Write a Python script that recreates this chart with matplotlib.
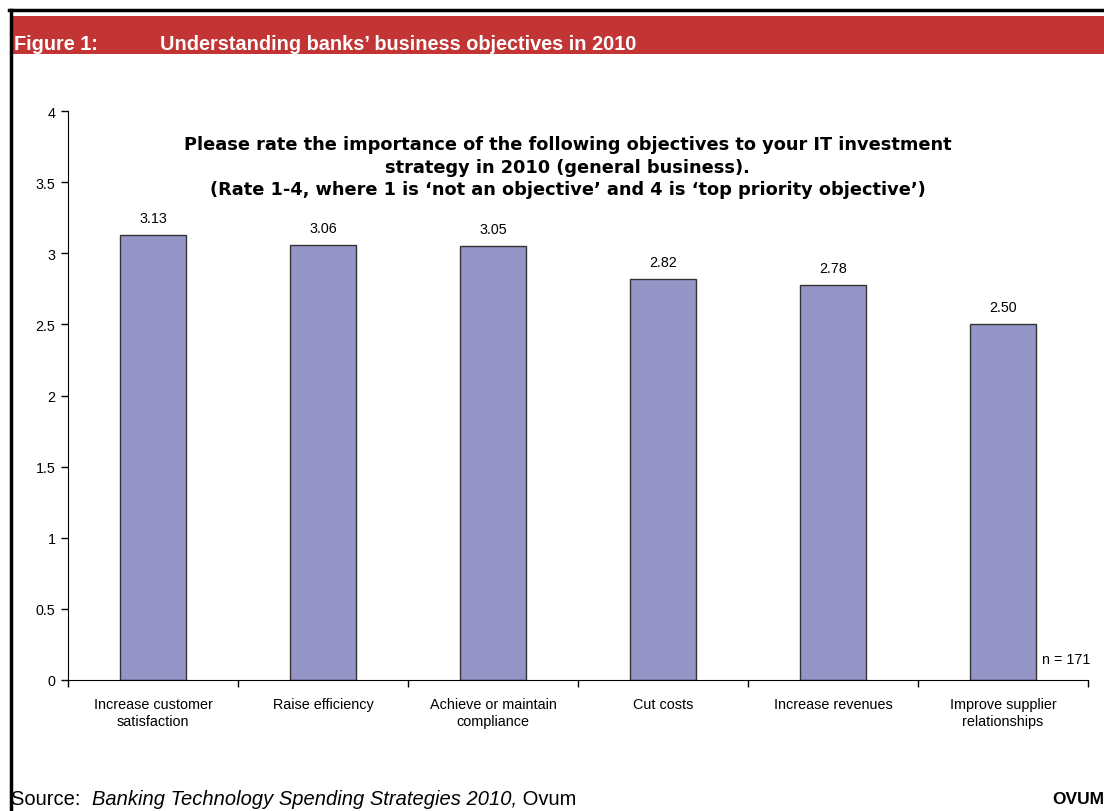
import numpy as np
import matplotlib.pyplot as plt
from matplotlib.patches import Rectangle
from matplotlib.lines import Line2D

categories = ["Increase customer\nsatisfaction", "Raise efficiency",
              "Achieve or maintain\ncompliance", "Cut costs",
              "Increase revenues", "Improve supplier\nrelationships"]
values = [3.13, 3.06, 3.05, 2.82, 2.78, 2.50]
yticks = [0, 0.5, 1, 1.5, 2, 2.5, 3, 3.5, 4]
ytick_labels = ["0", "0.5", "1", "1.5", "2", "2.5", "3", "3.5", "4"]

W, H = 1104, 812
fig = plt.figure(figsize=(W / 100, H / 100), dpi=100)
plt.rcParams['font.family'] = ['Liberation Sans', 'DejaVu Sans']


def fx(px):
    return px / W


def fy(py):
    return 1 - py / H


# frame and red header band
fig.add_artist(Line2D([fx(9), 1], [fy(11), fy(11)], color='black', lw=2.5, transform=fig.transFigure))
fig.add_artist(Line2D([fx(11), fx(11)], [fy(11), 0], color='black', lw=2.5, transform=fig.transFigure))
fig.add_artist(Rectangle((fx(13), fy(55)), 1 - fx(13), fy(17) - fy(55), color='#C33434',
                         transform=fig.transFigure, lw=0))
fig.text(fx(14), fy(44), "Figure 1:", color='white', fontsize=14.3, fontweight='bold', va='center')
fig.text(fx(160), fy(44), "Understanding banks\u2019 business objectives in 2010", color='white',
         fontsize=14.3, fontweight='bold', va='center')

ax = fig.add_axes([fx(68), fy(681), fx(1088) - fx(68), fy(112) - fy(681)])
x = np.arange(len(categories))
bars = ax.bar(x, values, width=0.39, color='#9595C8', edgecolor='#333333', linewidth=1)
for b, v in zip(bars, values):
    ax.text(b.get_x() + b.get_width() / 2, v + 0.07, "{:.2f}".format(v),
            ha='center', va='bottom', fontsize=10.3)

ax.set_xlim(-0.5, len(categories) - 0.5)
ax.set_ylim(0, 4)
ax.set_yticks(yticks)
ax.set_yticklabels(ytick_labels, fontsize=10.3)
ax.set_xticks(x)
ax.set_xticklabels(categories, fontsize=10.4, linespacing=1.3)
ax.set_xticks(np.arange(len(categories) + 1) - 0.5, minor=True)
ax.tick_params(axis='x', which='major', length=0, pad=12)
ax.tick_params(axis='x', which='minor', length=5, direction='out', width=1)
ax.tick_params(axis='y', length=5, direction='out', width=1, pad=4)
ax.spines['top'].set_visible(False)
ax.spines['right'].set_visible(False)

ax.text(0.49, 0.957, "Please rate the importance of the following objectives to your IT investment\n"
        "strategy in 2010 (general business).\n"
        "(Rate 1-4, where 1 is \u2018not an objective\u2019 and 4 is \u2018top priority objective\u2019)",
        transform=ax.transAxes, ha='center', va='top', fontsize=12.8, fontweight='bold',
        family='DejaVu Sans', linespacing=1.32)
ax.text(1.002, 0.037, "n = 171", transform=ax.transAxes, ha='right', va='center', fontsize=10.3)

# source line, pieces placed one after the other
renderer = fig.canvas.get_renderer()
pos = fx(11)
for txt, st in [("Source: ", 'normal'), ("Banking Technology Spending Strategies 2010,", 'italic'),
                (" Ovum", 'normal')]:
    t = fig.text(pos, fy(800), txt, fontsize=14.5, va='center', style=st)
    bb = t.get_window_extent(renderer)
    pos = bb.x1 / W + (fx(6) if txt.startswith("Source") else 0)
fig.text(fx(1104), fy(800), "OVUM", fontsize=12.5, va='center', ha='right', fontweight='bold')

fig.savefig("out.png", dpi=100)
